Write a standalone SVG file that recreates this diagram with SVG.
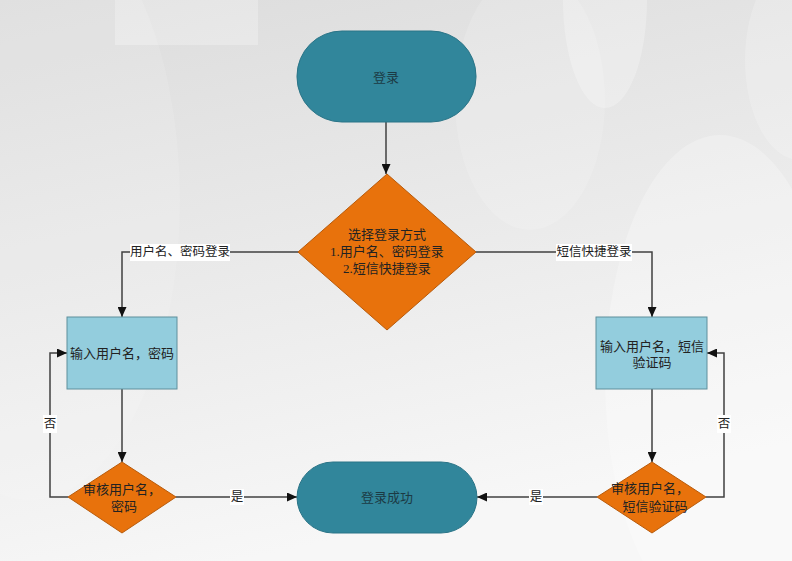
<svg xmlns="http://www.w3.org/2000/svg" width="792" height="561" viewBox="0 0 792 561">
<style>
.term{fill:#31869b;stroke:#2a7487;stroke-width:1}
.dec{fill:#e8720c;stroke:#b85a0a;stroke-width:1}
.box{fill:#93cddd;stroke:#5f8f9c;stroke-width:1}
.t{font-family:"Liberation Serif","Noto Sans CJK SC",serif;font-size:13px;fill:#222;text-anchor:middle;dominant-baseline:central}
.tt{font-family:"Liberation Serif","Noto Sans CJK SC",serif;font-size:13px;fill:#1c3a44;text-anchor:middle;dominant-baseline:central}
.lbl{font-family:"Liberation Serif","Noto Sans CJK SC",serif;font-size:12.5px;fill:#222;text-anchor:middle;dominant-baseline:central}
.lb{fill:#ffffff}
.c{fill:none;stroke:#404040;stroke-width:1.5}
</style>
<defs>
<linearGradient id="bg" x1="0" y1="0" x2="0.3" y2="1">
<stop offset="0" stop-color="#dcdcdc"/>
<stop offset="0.6" stop-color="#ececec"/>
<stop offset="1" stop-color="#f7f7f7"/>
</linearGradient>
<marker id="ah" markerUnits="userSpaceOnUse" markerWidth="10" markerHeight="9" refX="10" refY="4.5" orient="auto">
<path d="M0,0 L10,4.5 L0,9 z" fill="#111"/>
</marker>
</defs>
<g id="background">
<rect width="792" height="561" fill="url(#bg)"/>
<rect x="115" y="0" width="143" height="45" fill="#ffffff" opacity="0.25"/>
<ellipse cx="605" cy="0" rx="42" ry="108" fill="#ffffff" opacity="0.25"/>
<ellipse cx="530" cy="100" rx="75" ry="130" fill="#ffffff" opacity="0.15"/>
<ellipse cx="720" cy="380" rx="115" ry="245" fill="#ffffff" opacity="0.25"/>
<ellipse cx="800" cy="60" rx="55" ry="100" fill="#ffffff" opacity="0.2"/>
<ellipse cx="30" cy="200" rx="150" ry="300" fill="#ffffff" opacity="0.12"/>
</g>
<g id="connectors">
<path class="c" d="M386 122 V174" marker-end="url(#ah)"/>
<path class="c" d="M298 252 H122 V317" marker-end="url(#ah)"/>
<path class="c" d="M476 252 H652 V317" marker-end="url(#ah)"/>
<path class="c" d="M122 389 V462" marker-end="url(#ah)"/>
<path class="c" d="M652 389 V462" marker-end="url(#ah)"/>
<path class="c" d="M68 497 H50 V353 H67" marker-end="url(#ah)"/>
<path class="c" d="M706 497 H724 V353 H707" marker-end="url(#ah)"/>
<path class="c" d="M176 497 H297" marker-end="url(#ah)"/>
<path class="c" d="M597 497 H477" marker-end="url(#ah)"/>
<rect class="lb" x="130" y="244" width="100" height="17"/>
<text class="lbl" x="180" y="252">用户名、密码登录</text>
<rect class="lb" x="556" y="244" width="76" height="17"/>
<text class="lbl" x="594" y="252">短信快捷登录</text>
<rect class="lb" x="43" y="415" width="14" height="18"/>
<text class="lbl" x="50" y="424">否</text>
<rect class="lb" x="717" y="415" width="14" height="18"/>
<text class="lbl" x="724" y="424">否</text>
<rect class="lb" x="230" y="489" width="14" height="16"/>
<text class="lbl" x="237" y="497">是</text>
<rect class="lb" x="529" y="489" width="14" height="16"/>
<text class="lbl" x="536" y="497">是</text>
</g>
<g id="start">
<rect class="term" x="297" y="31" width="179" height="91" rx="45" ry="45"/>
<text class="tt" x="386" y="77">登录</text>
</g>
<g id="choose">
<polygon class="dec" points="387,174 476,252 387,330 298,252"/>
<text class="t" x="387" y="234">选择登录方式</text>
<text class="t" x="387" y="251">1.用户名、密码登录</text>
<text class="t" x="387" y="268">2.短信快捷登录</text>
</g>
<g id="input-pwd">
<rect class="box" x="67" y="317" width="110" height="72"/>
<text class="t" x="122" y="353">输入用户名，密码</text>
</g>
<g id="input-sms">
<rect class="box" x="596" y="317" width="111" height="72"/>
<text class="t" x="652" y="346">输入用户名，短信</text>
<text class="t" x="652" y="362">验证码</text>
</g>
<g id="check-pwd">
<polygon class="dec" points="122,462 176,497 122,533 68,497"/>
<text class="t" x="122" y="489">审核用户名，</text>
<text class="t" x="124" y="506">密码</text>
</g>
<g id="check-sms">
<polygon class="dec" points="652,462 706,497 652,533 597,497"/>
<text class="t" x="650" y="488">审核用户名，</text>
<text class="t" x="655" y="506">短信验证码</text>
</g>
<g id="success">
<rect class="term" x="297" y="462" width="180" height="71" rx="36" ry="36"/>
<text class="tt" x="387" y="497">登录成功</text>
</g>
</svg>
